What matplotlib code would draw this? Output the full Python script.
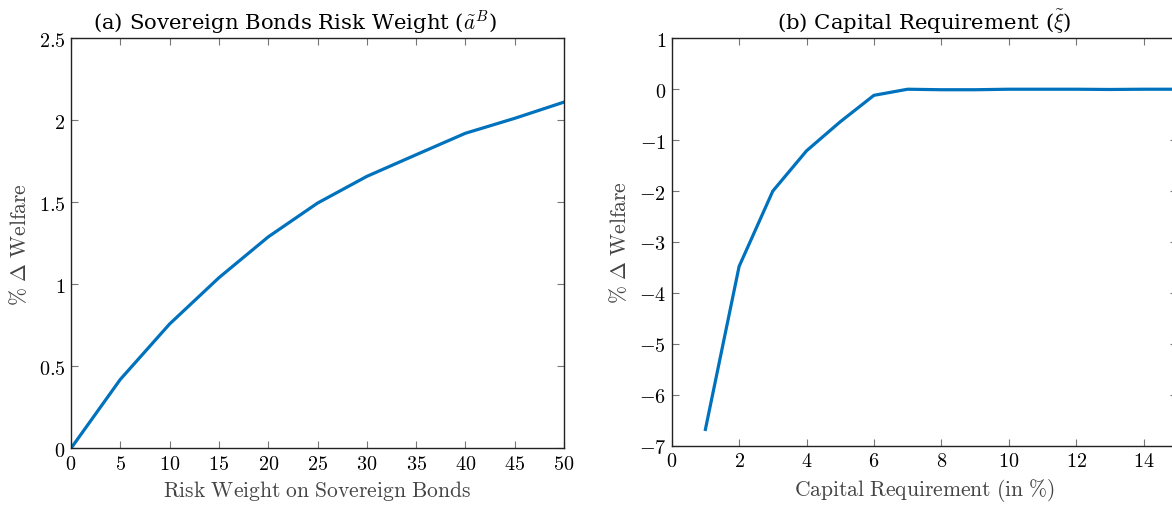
import numpy as np
import matplotlib
matplotlib.use("Agg")
import matplotlib.pyplot as plt
from matplotlib.ticker import FuncFormatter

plt.rcParams['mathtext.fontset'] = 'cm'

# (a) risk weight on sovereign bonds
risk_weight = [0, 5, 10, 15, 20, 25, 30, 35, 40, 45, 50]
welfare_a = [0.0, 0.42, 0.758, 1.04, 1.289, 1.495, 1.658, 1.79, 1.921, 2.012, 2.111]

# (b) capital requirement
cap_req = [1, 2, 3, 4, 5, 6, 7, 8, 9, 10, 11, 12, 13, 14, 15]
welfare_b = [-6.68, -3.48, -2.0, -1.21, -0.64, -0.12, 0.0, -0.01, -0.01, 0.0,
             0.0, 0.0, -0.005, 0.0, 0.0]

blue = '#0072BD'
tick_fs = 14.5
label_fs = 15.5


def math_fmt(v, pos):
    return f'${v:g}$'


def style(ax):
    for s in ax.spines.values():
        s.set_linewidth(1.0)
        s.set_color('#222222')
    ax.tick_params(direction='in', length=5, width=0.8, color='#777777',
                   top=True, right=True, labelsize=tick_fs, pad=4)
    ax.xaxis.set_major_formatter(FuncFormatter(math_fmt))
    ax.yaxis.set_major_formatter(FuncFormatter(math_fmt))


fig = plt.figure(figsize=(11.72, 5.06), dpi=100)

ax1 = fig.add_axes([71 / 1172, 1 - 449.3 / 506, 493 / 1172, 410 / 506])
ax1.plot(risk_weight, welfare_a, color=blue, lw=2.3)
ax1.set_xlim(0, 50)
ax1.set_ylim(0, 2.5)
ax1.set_xticks(np.arange(0, 51, 5))
ax1.set_yticks(np.arange(0, 2.51, 0.5))
style(ax1)
ax1.set_xlabel(r'$\mathrm{Risk\ Weight\ on\ Sovereign\ Bonds}$', fontsize=label_fs,
               color='#444444', labelpad=4)
ax1.set_ylabel(r'$\%\ \Delta\ \mathrm{Welfare}$', fontsize=label_fs,
               color='#444444', labelpad=6)
ax1.set_title(r'(a) Sovereign Bonds Risk Weight ($\tilde{a}^B$)', x=0.454,
              family='DejaVu Serif', fontsize=15.3, pad=7)

# right panel runs past the figure edge, as in the original crop
ax2 = fig.add_axes([671.7 / 1172, 1 - 446.7 / 506, 505.5 / 1172, 407.4 / 506])
ax2.plot(cap_req, welfare_b, color=blue, lw=2.3)
ax2.set_xlim(0, 15)
ax2.set_ylim(-7, 1)
ax2.set_xticks(np.arange(0, 15, 2))
ax2.set_yticks(np.arange(-7, 2, 1))
style(ax2)
ax2.set_xlabel(r'$\mathrm{Capital\ Requirement\ (in\ \%)}$', fontsize=label_fs,
               color='#444444', labelpad=4)
ax2.set_ylabel(r'$\%\ \Delta\ \mathrm{Welfare}$', fontsize=label_fs,
               color='#444444', labelpad=6)
ax2.set_title(r'(b) Capital Requirement ($\tilde{\xi}$)', x=0.50,
              family='DejaVu Serif', fontsize=15.3, pad=7)

fig.savefig('out.png', dpi=100)
